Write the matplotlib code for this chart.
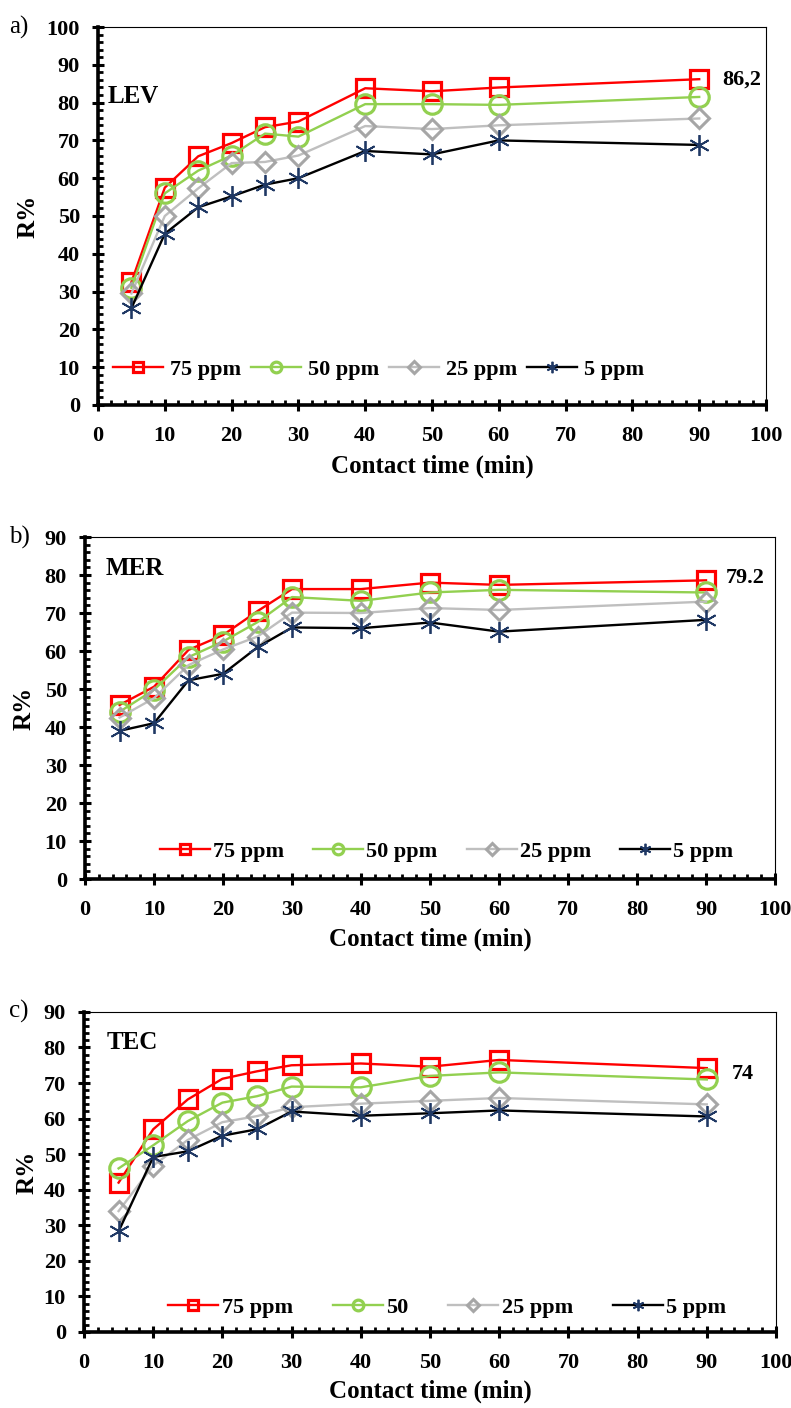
import numpy as np
import matplotlib
matplotlib.use("Agg")
import matplotlib.pyplot as plt
from matplotlib.ticker import MultipleLocator

plt.rcParams['font.family'] = ['Liberation Serif', 'DejaVu Serif']
plt.rcParams['font.weight'] = 'bold'

# contact time (min)
t = [5, 10, 15, 20, 25, 30, 40, 50, 60, 90]

# a) LEV
lev_75 = [32.5, 57.5, 65.8, 69.3, 73.5, 75.0, 83.8, 83.0, 84.0, 86.2]
lev_50 = [31.0, 56.0, 62.0, 66.0, 71.8, 71.0, 79.6, 79.6, 79.4, 81.5]
lev_25 = [29.5, 50.0, 57.3, 64.0, 64.3, 66.0, 73.8, 73.0, 74.0, 75.8]
lev_5 = [25.6, 45.3, 52.3, 55.2, 58.3, 60.0, 67.2, 66.3, 70.0, 68.8]

# b) MER
mer_75 = [45.8, 50.6, 60.3, 64.2, 70.5, 76.3, 76.3, 78.0, 77.4, 78.6]
mer_50 = [44.0, 49.8, 58.4, 62.5, 67.6, 74.2, 73.2, 75.4, 76.1, 75.4]
mer_25 = [42.5, 47.6, 56.3, 60.4, 63.8, 70.1, 70.0, 71.3, 70.8, 73.0]
mer_5 = [39.0, 41.0, 52.3, 54.0, 61.0, 66.2, 66.0, 67.5, 65.1, 68.2]

# c) TEC
tec_75 = [42.0, 57.0, 65.4, 71.2, 73.3, 75.0, 75.5, 74.6, 76.5, 74.2]
tec_50 = [46.0, 52.5, 59.3, 64.5, 66.3, 69.0, 68.8, 72.0, 73.0, 71.0]
tec_25 = [34.0, 46.8, 54.0, 59.0, 60.7, 63.2, 64.2, 65.0, 65.8, 64.0]
tec_5 = [28.3, 49.2, 50.8, 55.2, 57.0, 62.0, 60.8, 61.5, 62.3, 60.6]

panels = [
    dict(label='a)', lab_y=0.9808, name='LEV', name_xy=(0.015, 0.815), ymax=100,
         data=[lev_75, lev_50, lev_25, lev_5],
         legend=['75 ppm', '50 ppm', '25 ppm', '5 ppm'], note='86,2', note_xy=(93.5, 86.2),
         rect=[0.1239, 0.7124, 0.8445, 0.2684],
         leg=dict(xy=(0.42, 0.093), size=16, hl=2.25, pad=0.3, cs=0.45),
         ylab_x=-0.087, xlab_y=-0.132),
    dict(label='b)', lab_y=0.6186, name='MER', name_xy=(0.03, 0.909), ymax=90,
         data=[mer_75, mer_50, mer_25, mer_5],
         legend=['75 ppm', '50 ppm', '25 ppm', '5 ppm'], note='79.2', note_xy=(92.8, 79.2),
         rect=[0.1075, 0.3757, 0.8723, 0.2429],
         leg=dict(xy=(0.524, 0.079), size=16, hl=2.25, pad=0.15, cs=1.3),
         ylab_x=-0.071, xlab_y=-0.143),
    dict(label='c)', lab_y=0.2813, name='TEC', name_xy=(0.032, 0.906), ymax=90,
         data=[tec_75, tec_50, tec_25, tec_5],
         legend=['75 ppm', '50', '25 ppm', '5 ppm'], note='74', note_xy=(93.6, 72.6),
         rect=[0.1062, 0.054, 0.8748, 0.2273],
         leg=dict(xy=(0.525, 0.075), size=16, hl=2.25, pad=0.15, cs=1.8),
         ylab_x=-0.066, xlab_y=-0.15),
]

styles = [
    dict(color='#FF0000', marker='s', mec='#FF0000', mfc='none', ms=13, mew=2.3),
    dict(color='#92D050', marker='o', mec='#92D050', mfc='none', ms=14, mew=2.3),
    dict(color='#BFBFBF', marker='D', mec='#A6A6A6', mfc='none', ms=10.5, mew=2.2),
    dict(color='#000000', marker=(6, 2, 0), mec='#1F3864', mfc='#1F3864', ms=15, mew=1.3),
]

fig = plt.figure(figsize=(7.91, 14.08), dpi=100)

for p in panels:
    ax = fig.add_axes(p['rect'])
    for y, st, lab in zip(p['data'], styles, p['legend']):
        ax.plot(t, y, color=st['color'], lw=1.7, marker=st['marker'],
                mec=st['mec'], mfc=st['mfc'], ms=st['ms'], mew=st['mew'], label=lab)
    ax.set_xlim(0, 100)
    ax.set_ylim(0, p['ymax'])
    ax.xaxis.set_major_locator(MultipleLocator(10))
    ax.xaxis.set_minor_locator(MultipleLocator(2))
    ax.yaxis.set_major_locator(MultipleLocator(10))
    ax.yaxis.set_minor_locator(MultipleLocator(2))
    ax.tick_params(which='major', direction='inout', length=8, width=2.2, labelsize=16)
    ax.tick_params(axis='x', which='major', pad=11)
    ax.tick_params(axis='y', which='major', pad=9)
    ax.tick_params(which='minor', direction='in', length=3.5, width=2.0)
    for lbl in ax.get_xticklabels() + ax.get_yticklabels():
        lbl.set_fontweight('bold')
    ax.spines['left'].set_linewidth(2.6)
    ax.spines['bottom'].set_linewidth(2.6)
    ax.spines['top'].set_linewidth(0.8)
    ax.spines['right'].set_linewidth(0.8)
    ax.set_xlabel('Contact time (min)', fontsize=18, fontweight='bold')
    ax.set_ylabel('R%', fontsize=18, fontweight='bold')
    ax.xaxis.set_label_coords(0.5, p['xlab_y'])
    ax.yaxis.set_label_coords(p['ylab_x'], 0.5)
    ax.text(p['name_xy'][0], p['name_xy'][1], p['name'], transform=ax.transAxes,
            fontsize=18, fontweight='bold', va='center')
    ax.annotate(p['note'], xy=p['note_xy'], fontsize=16, fontweight='bold',
                va='center', ha='left')
    fig.text(0.012, p['lab_y'], p['label'], fontsize=18, fontweight='normal', va='center')
    lg = p['leg']
    ax.legend(loc='center', bbox_to_anchor=lg['xy'], ncol=4, frameon=False,
              prop=dict(size=lg['size'], weight='bold'), markerscale=0.55,
              handlelength=lg['hl'], handletextpad=lg['pad'], columnspacing=lg['cs'])

fig.savefig('out.png', dpi=100)
